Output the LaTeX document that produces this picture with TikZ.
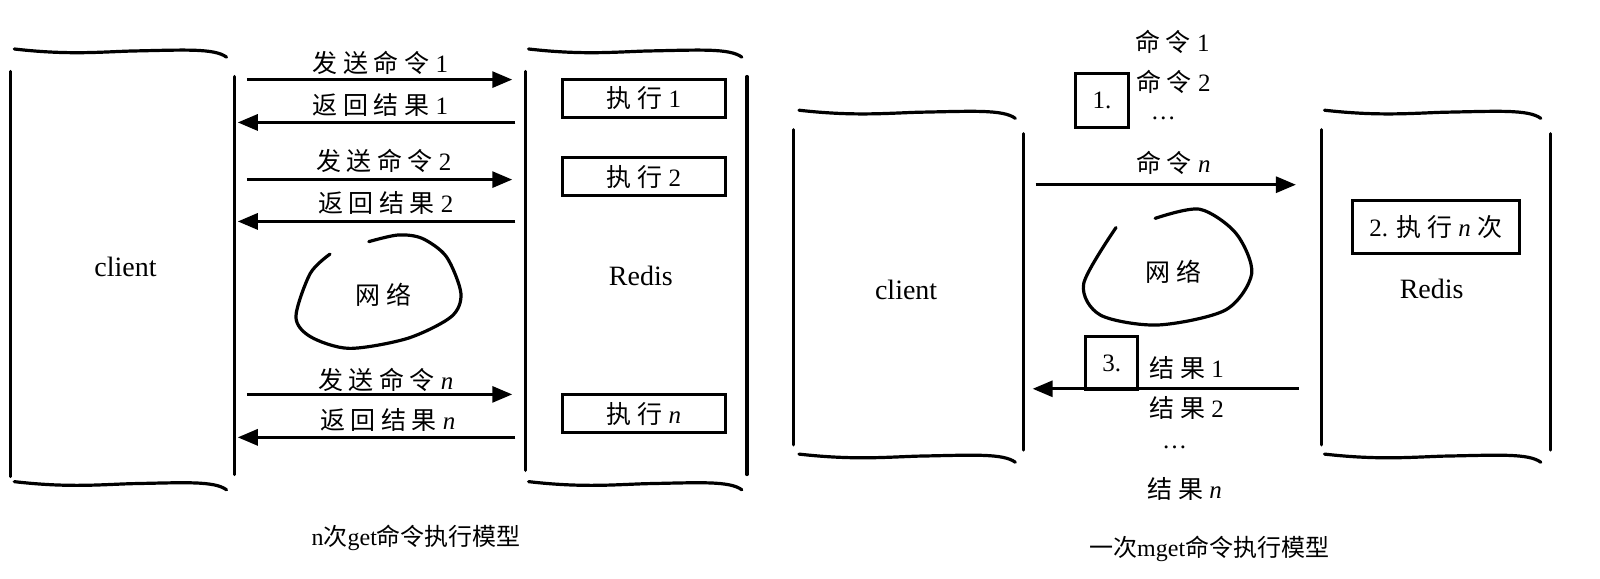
\documentclass[tikz,border=0pt]{standalone}
\usepackage{fontspec}
\setmainfont{Liberation Serif}
\newfontfamily\cjk[LetterSpace=22]{Noto Sans CJK SC}
\newfontfamily\cjkplain{Noto Sans CJK SC}
\usetikzlibrary{arrows.meta}

% wavy top/bottom of a box: left x, right x, y
\newcommand{\wavycap}[3]{%
  \draw[hand] (#1,#3) .. controls ({#1+0.25*(#2-#1)},{#3+6}) and ({#1+0.4*(#2-#1)},{#3+3}) .. ({#1+0.55*(#2-#1)},{#3+2})
    .. controls ({#1+0.8*(#2-#1)},{#3+1}) and ({#2-12},{#3-1}) .. (#2,{#3+8});}

\begin{document}
\begin{tikzpicture}[x=1.0204pt,y=-1.0204pt,>={Triangle[length=20pt,width=16pt]},
  hand/.style={line width=3.2pt,line cap=round},
  arr/.style={->,line width=3pt},
  lab/.style={font=\fontsize{25}{27}\selectfont},
  execbox/.style={draw,line width=3pt,minimum width=163pt,minimum height=38pt,font=\fontsize{25}{27}\selectfont},
  numbox/.style={draw,line width=3pt,minimum width=53pt,minimum height=54pt,font=\fontsize{25}{27}\selectfont},
  captext/.style={font=\fontsize{24}{26}\selectfont}]
\useasboundingbox (0,0) rectangle (1568,567);

% ---- n get ----
\wavycap{14}{222}{48}
\wavycap{14}{222}{472}
\draw[hand] (10.5,70)--(10.5,467) (229.7,75)--(229.7,465);
\wavycap{518}{727}{48}
\wavycap{518}{727}{472}
\draw[hand] (515,70)--(515,461) (732,75)--(732,465);
\node[lab,font=\fontsize{28}{30}\selectfont] (cli1) at (123,262) {client};
\node[lab,font=\fontsize{28}{30}\selectfont] (red1) at (628,270) {Redis};

\node[lab] (snd1) at (373,62) {{\cjk 发送命令} 1};
\node[lab] (ret1) at (373,103) {{\cjk 返回结果} 1};
\node[lab] (snd2) at (376,158) {{\cjk 发送命令} 2};
\node[lab] (ret2) at (378,199) {{\cjk 返回结果} 2};
\node[lab] (sndn) at (378,372) {{\cjk 发送命令} \textit{n}};
\node[lab] (retn) at (380,412) {{\cjk 返回结果} \textit{n}};
\foreach \i/\ys/\yr in {1/78/120,2/176/217,n/386.5/428.6}{
  \coordinate (sa\i) at (242,\ys); \coordinate (sb\i) at (502,\ys);
  \coordinate (ra\i) at (505,\yr); \coordinate (rb\i) at (233,\yr);
  \draw[arr] (sa\i) -- (sb\i);
  \draw[arr] (ra\i) -- (rb\i);
}
\node[execbox] (ex1) at (631,96.4) {{\cjk 执行} 1};
\node[execbox] (ex2) at (631,173) {{\cjk 执行} 2};
\node[execbox] (exn) at (631,405.5) {{\cjk 执行} \textit{n}};

\draw[hand] plot[smooth] coordinates {(323.4,249) (304,268) (290,310.4) (304.3,330) (342.4,341.4) (399.4,331.6) (442.2,310.4) (451.7,287.5) (437.5,251.6) (413.7,233.6) (390,230.3) (361.4,236.8)};
\node[lab] (net1) at (376,289) {\cjk 网络};
\node[captext] (cap1) at (408,527) {n{\cjkplain 次}get{\cjkplain 命令执行模型}};

% ---- one mget ----
\wavycap{783}{995}{108}
\wavycap{783}{995}{445}
\draw[hand] (777.6,127)--(777.6,436) (1003,131)--(1003,441);
\wavycap{1298}{1510}{108}
\wavycap{1298}{1510}{445}
\draw[hand] (1294.7,127)--(1294.7,436) (1519.8,131)--(1519.8,441);
\node[lab,font=\fontsize{28}{30}\selectfont] (cli2) at (888,284) {client};
\node[lab,font=\fontsize{28}{30}\selectfont] (red2) at (1403,283) {Redis};

\node[lab] (cmd1) at (1149,41) {{\cjk 命令} 1};
\node[lab] (cmd2) at (1150,80) {{\cjk 命令} 2};
\node[lab] (cmdd) at (1140,116) {\ldots};
\node[lab] (cmdn) at (1150,160) {{\cjk 命令} \textit{n}};
\node[numbox] (st1) at (1080,98.5) {1.};
\coordinate (mgs) at (1015,181);
\coordinate (mgt) at (1270,181);
\draw[arr] (mgs) -- (mgt);
\node[execbox,minimum width=167pt,minimum height=53pt] (st2) at (1407,222) {2. {\cjk 执行} \textit{n} {\cjk 次}};

\draw[hand] plot[smooth] coordinates {(1093.7,223) (1062,278) (1078.3,308.7) (1134.6,318.5) (1201,303.8) (1226.7,268) (1211.3,228.7) (1175.5,205) (1132,214)};
\node[lab] (net2) at (1150,266) {\cjk 网络};

\coordinate (mrs) at (1273,381);
\coordinate (mrt) at (1012,381);
\draw[arr] (mrs) -- (mrt);
\node[numbox,minimum width=52pt,minimum height=53pt] (st3) at (1089.5,356) {3.};
\node[lab] (res1) at (1163,361) {{\cjk 结果} 1};
\node[lab] (res2) at (1163,400) {{\cjk 结果} 2};
\node[lab] (resd) at (1151,438) {\ldots};
\node[lab] (resn) at (1161,479) {{\cjk 结果} \textit{n}};
\node[captext] (cap2) at (1185,538) {{\cjkplain 一次}mget{\cjkplain 命令执行模型}};
\end{tikzpicture}
\end{document}
